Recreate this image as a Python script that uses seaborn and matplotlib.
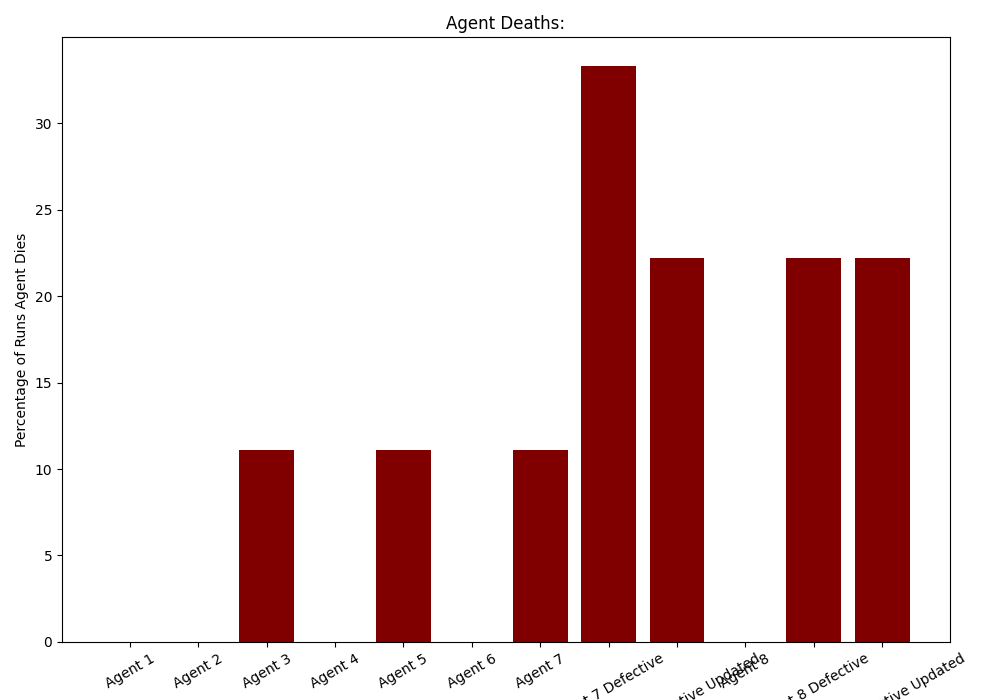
import pandas as pd
import matplotlib
matplotlib.use('Agg')
import matplotlib.pyplot as plt
import seaborn as sns

agents = ['Agent 1', 'Agent 2', 'Agent 3', 'Agent 4', 'Agent 5', 'Agent 6', 'Agent 7',
          'Agent 7 Defective', 'Agent 7 Defective Updated', 'Agent 8',
          'Agent 8 Defective', 'Agent 8 Defective Updated']
death_pct = [0, 0, 11.11, 0, 11.11, 0, 11.11, 33.33, 22.22, 0, 22.22, 22.22]

df = pd.DataFrame({'agent': agents, 'pct': death_pct})

fig, ax = plt.subplots(figsize=(10, 7), dpi=100)
sns.barplot(data=df, x='agent', y='pct', color='maroon', saturation=1,
            width=0.8, ax=ax)
ax.set_xlim(-0.99, len(agents) - 0.01)
ax.set_ylim(0, max(death_pct) * 1.05)
plt.xticks(rotation=30)
ax.set_title('Agent Deaths:')
ax.set_xlabel('')
ax.set_ylabel('Percentage of Runs Agent Dies')
plt.subplots_adjust(left=0.062, right=0.95, top=0.947, bottom=0.083)
plt.savefig('out.png')
